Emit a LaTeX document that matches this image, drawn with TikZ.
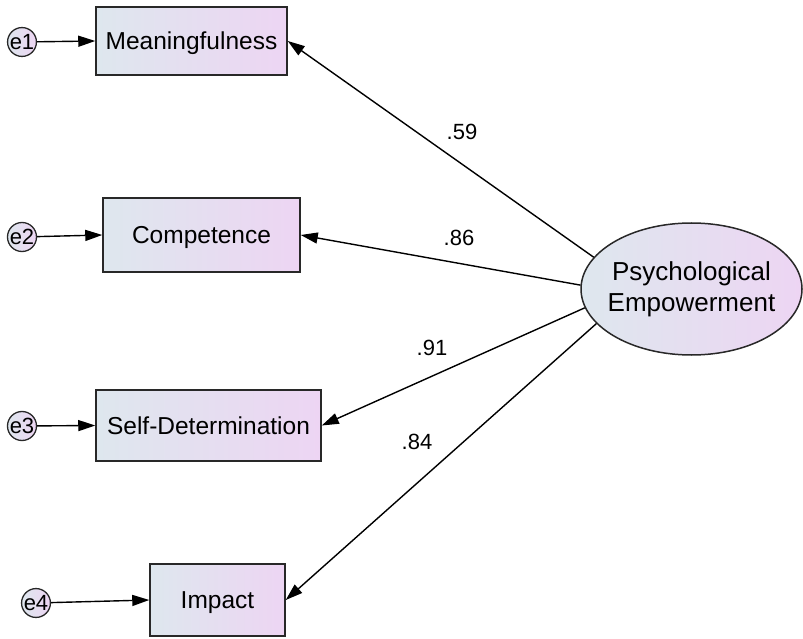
\documentclass[tikz,border=0pt]{standalone}
\usepackage{fontspec}
\setmainfont{Liberation Sans}
\usetikzlibrary{shapes.geometric,arrows.meta}
\definecolor{fillL}{RGB}{222,231,238}
\definecolor{fillR}{RGB}{237,213,243}
\definecolor{edge}{RGB}{40,40,40}
\begin{document}
\begin{tikzpicture}[x=1pt,y=-1pt,
  obs/.style={rectangle,draw=edge,line width=1.5pt,left color=fillL,right color=fillR,
    inner sep=0pt,text depth=0pt,font=\fontsize{24.5}{28}\selectfont},
  lat/.style={ellipse,draw=edge,line width=1.5pt,left color=fillL,right color=fillR,
    minimum width=221pt,minimum height=132pt,inner sep=0pt,align=center,
    font=\fontsize{26}{31}\selectfont},
  err/.style={circle,draw=edge,line width=1.3pt,left color=fillL,right color=fillR,
    minimum size=28pt,inner sep=0pt,font=\fontsize{22}{24}\selectfont},
  link/.style={-{Triangle[length=17pt,width=11pt]},line width=1.4pt,black},
  coef/.style={font=\fontsize{22}{26}\selectfont}]
\useasboundingbox (0,0) rectangle (803,639);

% observed indicators
\node[obs,minimum width=191pt,minimum height=68pt] (mean) at (191.5,41) {Meaningfulness};
\node[obs,minimum width=197pt,minimum height=74pt] (comp) at (201.5,235) {Competence};
\node[obs,minimum width=225pt,minimum height=71pt] (selfd) at (208.5,425.5) {Self-Determination};
\node[obs,minimum width=135pt,minimum height=72pt] (imp) at (217.5,600) {Impact};

% latent factor
\node[lat] (pe) at (691.5,289) {\makebox[0pt]{Psychological}\\\makebox[0pt]{Empowerment}};

% error terms
\node[err] (e1) at (22,42) {e1};
\node[err] (e2) at (22,237) {e2};
\node[err] (e3) at (22,426) {e3};
\node[err] (e4) at (36,603) {e4};

% error paths
\draw[link] (e1) -- (mean.west);
\draw[link] (e2) -- (comp.west);
\draw[link] (e3) -- (selfd.west);
\draw[link] (e4) -- (imp.west);

% factor loadings
\draw[link] (pe.162) -- (mean.east);
\draw[link] (pe.178) -- (comp.east);
\draw[link] (pe.190) -- (selfd.east);
\draw[link] (pe.200) -- (imp.east);

\node[coef] (l1) at (462,132) {.59};
\node[coef] (l2) at (459,238) {.86};
\node[coef] (l3) at (432,348) {.91};
\node[coef] (l4) at (417,442) {.84};
\end{tikzpicture}
\end{document}
